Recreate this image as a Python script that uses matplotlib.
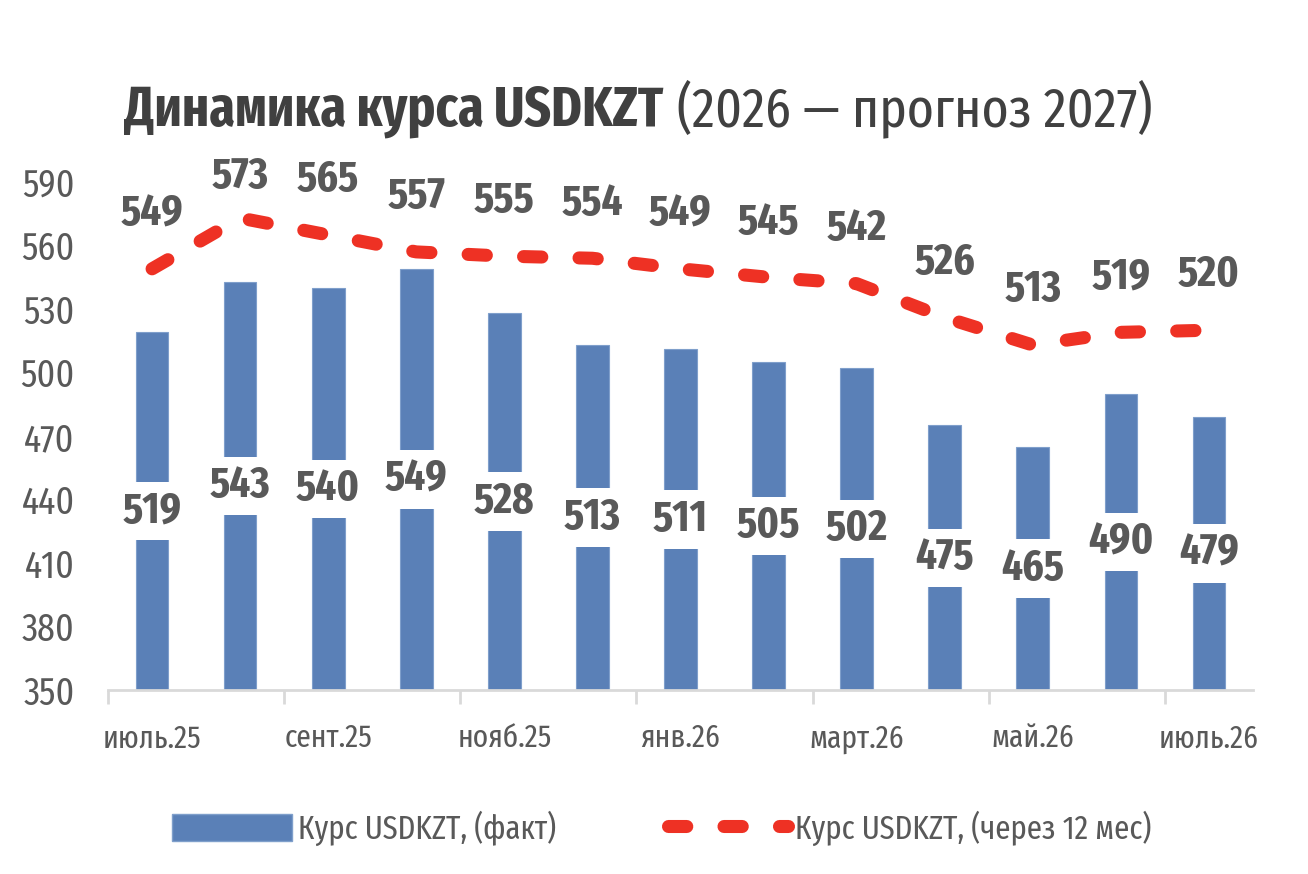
import numpy as np
import matplotlib
matplotlib.use('Agg')
import matplotlib.pyplot as plt
from matplotlib.patches import Patch
from matplotlib.lines import Line2D

# Data
months = ['июль.25', 'авг.25', 'сент.25', 'окт.25', 'нояб.25', 'дек.25', 'янв.26',
          'февр.26', 'март.26', 'апр.26', 'май.26', 'июнь.26', 'июль.26']
fact = [519, 543, 540, 549, 528, 513, 511, 505, 502, 475, 465, 490, 479]
forecast = [549, 573, 565, 557, 555, 554, 549, 545, 542, 526, 513, 519, 520]
yticks = [350, 380, 410, 440, 470, 500, 530, 560, 590]

# narrow font, falls back to DejaVu (condensed if present)
plt.rcParams['font.family'] = ['Fira Sans Extra Condensed', 'DejaVu Sans']
plt.rcParams['font.stretch'] = 'condensed'

blue = '#5a80b7'
red = '#ee3124'
grey = '#595959'

fig = plt.figure(figsize=(13.08, 8.74), dpi=100)
ax = fig.add_axes([0.0826, 0.2105, 0.8753, 0.5812])

x = np.arange(len(months))
ax.bar(x, fact, width=0.37, color=blue, edgecolor='#7f9fcb', linewidth=0.8, zorder=2)
ax.plot(x, forecast, color=red, linewidth=9.4, dashes=(1.4, 2.85),
        dash_capstyle='round', solid_capstyle='round', zorder=3)

ax.set_ylim(350, 590)
ax.set_xlim(-0.5, len(months) - 0.5)

# bar labels, centred in the bar with a white box
for i, v in enumerate(fact):
    ax.text(i, (350 + v) / 2, str(v), ha='center', va='center', fontsize=32,
            fontweight='bold', color=grey, zorder=4,
            bbox=dict(boxstyle='square,pad=0.18', fc='white', ec='none'))

# line labels above the points, kept inside the chart area like Excel does
for i, v in enumerate(forecast):
    ax.text(i, min(v + 26, 592.4), str(v), ha='center', va='center',
            fontsize=32, fontweight='bold', color=grey, clip_on=False, zorder=4)

ax.set_yticks(yticks)
ax.set_yticklabels([str(t) for t in yticks], fontsize=28, color=grey)
ax.tick_params(axis='y', length=0, pad=24)

ax.set_xticks(x[::2])
ax.set_xticklabels(months[::2], fontsize=23, color=grey)
ax.set_xticks(np.arange(-0.5, len(months) - 1, 2), minor=True)
ax.tick_params(axis='x', which='major', length=0, pad=24)
ax.tick_params(axis='x', which='minor', length=10, width=2, color='#d9d9d9')

for s in ['top', 'right', 'left']:
    ax.spines[s].set_visible(False)
ax.spines['bottom'].set_color('#d9d9d9')
ax.spines['bottom'].set_linewidth(2)

# title: bold part followed by regular part, centred as a whole
t1 = fig.text(0.1, 1 - 125 / 874, 'Динамика курса USDKZT', ha='left',
              va='baseline', fontsize=40.5, fontweight='bold', color='#404040')
t2 = ax.annotate('(2026 — прогноз 2027)', xy=(1, 0), xycoords=t1, xytext=(10, 0),
                 textcoords='offset points', ha='left', va='bottom',
                 fontsize=40.5, color='#404040', annotation_clip=False)
fig.canvas.draw()
r = fig.canvas.get_renderer()
b1 = t1.get_window_extent(r)
b2 = t2.get_window_extent(r)
shift = 638 - (b1.x0 + b2.x1) / 2
t1.set_x(0.1 + shift / fig.bbox.width)

handles = [Patch(facecolor=blue, edgecolor='#7f9fcb'),
           Line2D([0], [0], color=red, linewidth=9.4, dashes=(1.4, 2.85),
                  dash_capstyle='round')]
fig.legend(handles, ['Курс USDKZT, (факт)', 'Курс USDKZT, (через 12 мес)'],
           loc='center', bbox_to_anchor=(0.5057, 0.052), ncol=2, frameon=False,
           fontsize=24, handlelength=3.6, handleheight=0.9, handletextpad=0.2,
           columnspacing=3.35, labelcolor=grey)

fig.savefig('out.png', dpi=100)
